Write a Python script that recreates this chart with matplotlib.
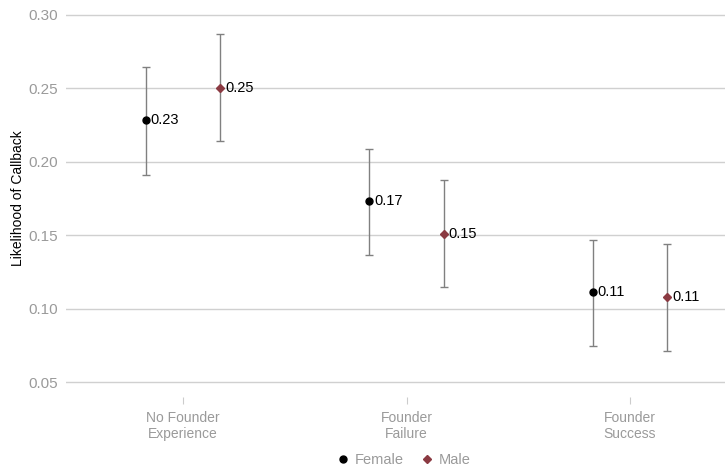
import matplotlib.pyplot as plt
from matplotlib.lines import Line2D

plt.rcParams['font.family'] = ['Liberation Sans', 'DejaVu Sans']

categories = ["No Founder\nExperience", "Founder\nFailure", "Founder\nSuccess"]
female_mean = [0.2287, 0.1730, 0.1111]
female_low = [0.1913, 0.1363, 0.0745]
female_high = [0.2647, 0.2090, 0.1471]
male_mean = [0.2504, 0.1512, 0.1077]
male_low = [0.2144, 0.1145, 0.0711]
male_high = [0.2871, 0.1879, 0.1444]

female_color = "#000000"
male_color = "#8B3A42"
grey = "#9a9a9a"

fig = plt.figure(figsize=(7.25, 4.71), dpi=100)
ax = fig.add_axes([0.091, 0.157, 0.909, 0.843])

x = list(range(1, len(categories) + 1))
offset = 0.166

for sign, mean, low, high, color, marker, ms in [
    (-1, female_mean, female_low, female_high, female_color, "o", 5),
    (1, male_mean, male_low, male_high, male_color, "D", 4.5),
]:
    xs = [v + sign * offset for v in x]
    err = [[m - l for m, l in zip(mean, low)], [h - m for m, h in zip(mean, high)]]
    ax.errorbar(xs, mean, yerr=err, fmt="none", ecolor="#808080",
                elinewidth=1, capsize=3, capthick=1, zorder=2)
    ax.plot(xs, mean, linestyle="none", marker=marker, color=color,
            markersize=ms, zorder=3)
    for xi, m in zip(xs, mean):
        ax.annotate(f"{m:.2f}", (xi, m), xytext=(3.5, 0), textcoords="offset points",
                    ha="left", va="center", fontsize=10.5, color="black")

ax.set_xlim(0.476, 3.425)
ax.set_ylim(0.04, 0.31)
ax.set_yticks([0.05, 0.10, 0.15, 0.20, 0.25, 0.30])
ax.set_yticklabels([f"{v:.2f}" for v in [0.05, 0.10, 0.15, 0.20, 0.25, 0.30]])
ax.set_xticks(x)
ax.set_xticklabels(categories)
ax.grid(axis="y", color="#d0d0d0", linewidth=1)
ax.set_axisbelow(True)
for s in ax.spines.values():
    s.set_visible(False)
ax.tick_params(axis="y", length=0, labelsize=11, labelcolor=grey, pad=6)
ax.tick_params(axis="x", length=5, color="#cccccc", labelsize=10,
               labelcolor=grey, pad=5)
ax.set_ylabel("Likelihood of Callback", fontsize=10, color="black", labelpad=2)

handles = [
    Line2D([], [], linestyle="none", marker="o", color=female_color, markersize=5),
    Line2D([], [], linestyle="none", marker="D", color=male_color, markersize=4.5),
]
leg = fig.legend(handles, ["Female", "Male"], loc="center", ncol=2,
                 bbox_to_anchor=(0.555, 0.024), frameon=False, fontsize=10.5,
                 handletextpad=0.2, columnspacing=1.0, handlelength=1.2)
for t in leg.get_texts():
    t.set_color(grey)

fig.savefig("out.png", dpi=100)
